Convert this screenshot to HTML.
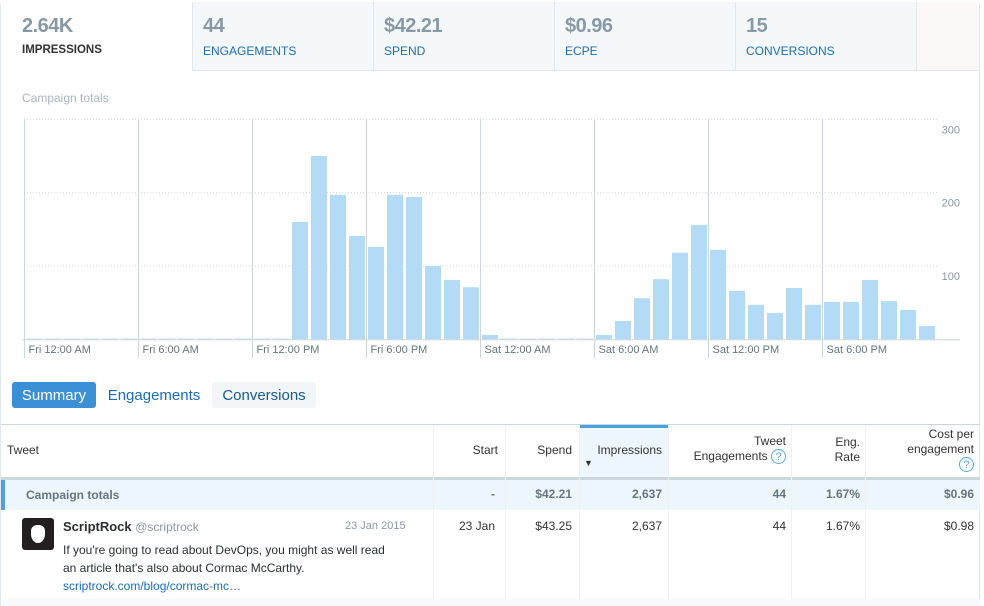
<!DOCTYPE html>
<html><head><meta charset="utf-8">
<style>
body{margin:0;width:984px;height:606px;overflow:hidden;background:#fff;font-family:"Liberation Sans",Arial,sans-serif;position:relative}
.a{position:absolute}
.tab{position:absolute;top:2px;height:68px;background:#f5f8fa;border-right:1px solid #e1e8ed;border-bottom:1px solid #e1e8ed}
.tab .n{position:absolute;left:10px;top:13px;font-size:20px;font-weight:bold;color:#8899a6;letter-spacing:-0.5px}
.tab .l{position:absolute;left:10px;top:42px;font-size:12px;color:#1b6eb5}
.th{position:absolute;font-size:12px;color:#333;text-align:right;line-height:15px}
.td{position:absolute;font-size:12px;color:#333;text-align:right}
.q{display:inline-block;width:15px;height:15px;border:1px solid #5ea9dd;border-radius:50%;color:#5ea9dd;font-size:11px;text-align:center;line-height:15px;box-sizing:border-box;vertical-align:middle}
</style></head><body>
<div class="a" style="left:0;top:2px;width:980px;height:604px;border:1px solid #e1e8ed;border-radius:4px 4px 0 0;box-sizing:border-box"></div>
<div class="tab" style="left:1px;width:191px;background:#fff;border-bottom:none;height:69px"><div class="n" style="left:21px">2.64K</div><div class="l" style="color:#333;left:21px;font-weight:bold;font-size:11.5px">IMPRESSIONS</div></div>
<div class="tab" style="left:193px;width:180px"><div class="n">44</div><div class="l">ENGAGEMENTS</div></div>
<div class="tab" style="left:374px;width:180px"><div class="n">$42.21</div><div class="l">SPEND</div></div>
<div class="tab" style="left:555px;width:180px"><div class="n">$0.96</div><div class="l">ECPE</div></div>
<div class="tab" style="left:736px;width:180px"><div class="n">15</div><div class="l">CONVERSIONS</div></div>
<div class="tab" style="left:917px;width:62px;border-right:none;background:#fbf8f7"></div>
<div class="a" style="left:22px;top:91px;font-size:12px;color:#aab8c2">Campaign totals</div>
<svg class="a" id="chart" style="left:0;top:110px" width="984" height="250"></svg>
<div class="a" style="left:12px;top:382px;width:84px;height:26px;background:#3b8fd5;border-radius:3px;color:#fff;font-size:15px;line-height:28px;text-align:center">Summary</div>
<div class="a" style="left:100px;top:382px;width:108px;height:26px;color:#1b6eb5;font-size:15px;line-height:28px;text-align:center">Engagements</div>
<div class="a" style="left:212px;top:382px;width:104px;height:26px;background:#f2f6f9;border-radius:3px;color:#1b5a8c;font-size:15px;line-height:28px;text-align:center">Conversions</div>
<div class="a" style="left:1px;top:424px;width:979px;height:1px;background:#ccd6dd"></div>
<div class="a" style="left:579px;top:425px;width:89px;height:52px;background:#eef6fd"></div>
<div class="a" style="left:579px;top:425px;width:89px;height:3px;background:#4aa3df"></div>
<div class="a" style="left:1px;top:477px;width:979px;height:3px;background:#ccd6dd"></div>
<div class="a" style="left:1px;top:480px;width:979px;height:30px;background:#eef6fd"></div>
<div class="a" style="left:1px;top:480px;width:4px;height:30px;background:#4aa3df"></div>
<div class="a" style="left:433px;top:425px;width:1px;height:181px;background:#eef1f3"></div>
<div class="a" style="left:505px;top:425px;width:1px;height:181px;background:#eef1f3"></div>
<div class="a" style="left:579px;top:425px;width:1px;height:181px;background:#eef1f3"></div>
<div class="a" style="left:668px;top:425px;width:1px;height:181px;background:#eef1f3"></div>
<div class="a" style="left:791px;top:425px;width:1px;height:181px;background:#eef1f3"></div>
<div class="a" style="left:865px;top:425px;width:1px;height:181px;background:#eef1f3"></div>
<div class="a" style="left:1px;top:599px;width:979px;height:7px;background:#f7f9fa"></div>
<div class="th" style="left:7px;top:443px;text-align:left">Tweet</div>
<div class="th" style="right:486px;top:443px">Start</div>
<div class="th" style="right:412px;top:443px">Spend</div>
<div class="th" style="right:322px;top:443px">Impressions</div>
<div class="a" style="left:584px;top:458px;font-size:9px;color:#333">▼</div>
<div class="th" style="right:198px;top:434px">Tweet<br>Engagements <span class="q">?</span></div>
<div class="th" style="right:124px;top:435px">Eng.<br>Rate</div>
<div class="th" style="right:10px;top:427px">Cost per<br>engagement<br><span class="q">?</span></div>
<div class="a" style="left:26px;top:488px;font-size:12px;font-weight:bold;color:#66757f">Campaign totals</div>
<div class="td" style="right:489px;top:487px;font-weight:bold;color:#66757f">-</div>
<div class="td" style="right:412px;top:487px;font-weight:bold;color:#66757f">$42.21</div>
<div class="td" style="right:322px;top:487px;font-weight:bold;color:#66757f">2,637</div>
<div class="td" style="right:198px;top:487px;font-weight:bold;color:#66757f">44</div>
<div class="td" style="right:124px;top:487px;font-weight:bold;color:#66757f">1.67%</div>
<div class="td" style="right:10px;top:487px;font-weight:bold;color:#66757f">$0.96</div>
<div class="a" style="left:22px;top:518px;width:32px;height:32px;background:#231f20;border-radius:3px"><div style="position:absolute;left:9px;top:7px;width:14px;height:18px;background:#fff;border-radius:6px 6px 50% 50%"></div></div>
<div class="a" style="left:63px;top:519px;font-size:13px;font-weight:bold;color:#292f33">ScriptRock <span style="font-weight:normal;color:#8899a6;font-size:12px">@scriptrock</span></div>
<div class="a" style="left:345px;top:520px;font-size:11px;color:#8899a6">23 Jan 2015</div>
<div class="a" style="left:63px;top:541px;width:334px;font-size:12px;line-height:18px;color:#292f33">If you're going to read about DevOps, you might as well read an article that's also about Cormac McCarthy.<br><span style="color:#1b6eb5">scriptrock.com/blog/cormac-mc…</span></div>
<div class="td" style="right:489px;top:519px">23 Jan</div>
<div class="td" style="right:412px;top:519px">$43.25</div>
<div class="td" style="right:322px;top:519px">2,637</div>
<div class="td" style="right:198px;top:519px">44</div>
<div class="td" style="right:124px;top:519px">1.67%</div>
<div class="td" style="right:10px;top:519px">$0.98</div>
<script>
const hourValues=[1,1,1,1,1,1,1,1,1,1,1,1,1,1,160,250,197,141,126,197,194,100,81,71,6,1,1,1,1,1,6,25,56,82,118,156,122,66,47,36,70,47,51,51,81,52,40,18];
const yTicks=[100,200,300];
const xLabels=["Fri 12:00 AM","Fri 6:00 AM","Fri 12:00 PM","Fri 6:00 PM","Sat 12:00 AM","Sat 6:00 AM","Sat 12:00 PM","Sat 6:00 PM"];
const svg=document.getElementById('chart');
const NS='http://www.w3.org/2000/svg';
const x0=24.5,step=19,base=229.3,yMax=300,plotH=220;
const y=v=>base-v/yMax*plotH;
const xs=i=>x0+i*step;
function mk(t,a){const e=document.createElementNS(NS,t);for(const k in a)e.setAttribute(k,a[k]);svg.appendChild(e);return e;}
yTicks.forEach(t=>{
  const l=mk('line',{x1:24,x2:937,y1:y(t),y2:y(t),stroke:'#ccd6dd','stroke-dasharray':'1,2'});
  
  
  const tx=mk('text',{x:960,y:y(t)+14,'text-anchor':'end','font-size':11,fill:'#8899a6'});
  tx.textContent=t;
  
  
});
xLabels.forEach((s,i)=>{
  const xx=xs(i*6);
  const l=mk('line',{x1:xx,x2:xx,y1:9,y2:248,stroke:'#ccd6dd'});
  
  
  const tx=mk('text',{x:xx+4,y:243,'font-size':11,fill:'#66757f'});
  tx.textContent=s;
  
  
});
hourValues.forEach((v,i)=>{
  const r=mk('rect',{x:xs(i)+1.5,y:y(v),width:16,height:base-y(v),fill:'#b3dbf5'});
  
  
});
const ax=mk('line',{x1:22,x2:960,y1:base+0.5,y2:base+0.5,stroke:'#ccd6dd'});


</script>
</body></html>
